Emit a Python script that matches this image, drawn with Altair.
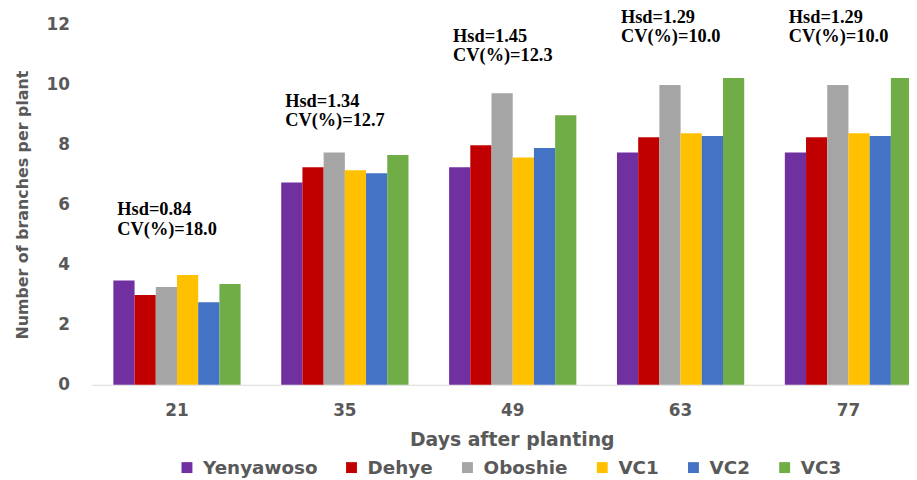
import altair as alt
import pandas as pd

# days after planting (x categories) and varieties (series)
days = ["21", "35", "49", "63", "77"]
varieties = ["Yenyawoso", "Dehye", "Oboshie", "VC1", "VC2", "VC3"]
colors = ["#7030A0", "#C00000", "#A5A5A5", "#FFC000", "#4472C4", "#70AD47"]

# number of branches per plant
yenyawoso = [3.47, 6.74, 7.25, 7.74, 7.74]
dehye = [2.99, 7.25, 7.98, 8.25, 8.25]
oboshie = [3.26, 7.74, 9.71, 9.99, 9.99]
vc1 = [3.66, 7.15, 7.57, 8.38, 8.38]
vc2 = [2.75, 7.05, 7.89, 8.29, 8.29]
vc3 = [3.36, 7.66, 8.98, 10.22, 10.22]

# statistics printed above each group, and the height they sit at
hsd = ["0.84", "1.34", "1.45", "1.29", "1.29"]
cv = ["18.0", "12.7", "12.3", "10.0", "10.0"]
note_y = [5.65, 9.25, 11.43, 12.07, 12.07]

series = [yenyawoso, dehye, oboshie, vc1, vc2, vc3]
rows = []
for name, vals in zip(varieties, series):
    for d, v in zip(days, vals):
        rows.append({"day": d, "variety": name, "branches": v})
df = pd.DataFrame(rows)

notes = pd.DataFrame({
    "day": days,
    "label": [f"Hsd={h}\nCV(%)={c}" for h, c in zip(hsd, cv)],
    "ny": note_y,
})

GREY = "#595959"
SANS = "DejaVu Sans"

x_scale = alt.Scale(range=[0, 849], paddingInner=0.242, paddingOuter=0.1275)
y_scale = alt.Scale(domain=[0, 12])

x_axis = alt.Axis(title="Days after planting", labelAngle=0,
                  labelFont=SANS, labelFontWeight="bold", labelFontSize=17,
                  labelColor=GREY, labelBaseline="alphabetic", labelPadding=30.7,
                  ticks=False, tickSize=0, domainColor="#D9D9D9", domainWidth=1.2,
                  titleFont=SANS, titleFontWeight="bold", titleFontSize=19,
                  titleColor=GREY, titleX=423.5, titleY=61.7,
                  titleBaseline="alphabetic", titleAlign="center")
y_axis = alt.Axis(title="Number of branches per plant", values=[0, 2, 4, 6, 8, 10, 12],
                  grid=False, domain=False, ticks=False, tickSize=0,
                  labelFont=SANS, labelFontWeight="bold", labelFontSize=17,
                  labelColor=GREY, labelPadding=22.7,
                  titleFont=SANS, titleFontWeight="bold", titleFontSize=16,
                  titleColor=GREY, titleAngle=270, titleX=-70.2, titleY=181.6,
                  titleAlign="center", titleBaseline="middle")

bars = alt.Chart(df).mark_bar().encode(
    x=alt.X("day:N", sort=days, scale=x_scale, axis=x_axis),
    xOffset=alt.XOffset("variety:N", sort=varieties),
    y=alt.Y("branches:Q", scale=y_scale, axis=y_axis),
    color=alt.Color("variety:N", sort=varieties,
                    scale=alt.Scale(domain=varieties, range=colors),
                    legend=alt.Legend(title=None, orient="none", direction="horizontal",
                                      legendX=86.6, legendY=437.5,
                                      symbolType="square", symbolSize=121, symbolStrokeWidth=0,
                                      labelFont=SANS, labelFontWeight="bold", labelFontSize=18.5,
                                      labelColor=GREY, labelOffset=7, columnPadding=25)),
)

text = alt.Chart(notes).mark_text(
    align="left", baseline="alphabetic", dx=4, lineBreak="\n", lineHeight=19.5,
    font="Liberation Serif", fontWeight="bold", fontSize=18.5, color="black",
).encode(
    x=alt.X("day:N", sort=days, bandPosition=0, scale=x_scale, axis=x_axis),
    y=alt.Y("ny:Q", scale=y_scale, axis=y_axis),
    text="label:N",
)

chart = alt.layer(bars, text).properties(
    width=824.3,
    height=363.3,
    autosize=alt.AutoSizeParams(type="none"),
    padding={"left": 84.7, "top": 14.7, "right": 0, "bottom": 93},
    background="white",
).configure_view(stroke=None)

chart.save("out.html", embed_options={"renderer": "svg", "actions": False})
